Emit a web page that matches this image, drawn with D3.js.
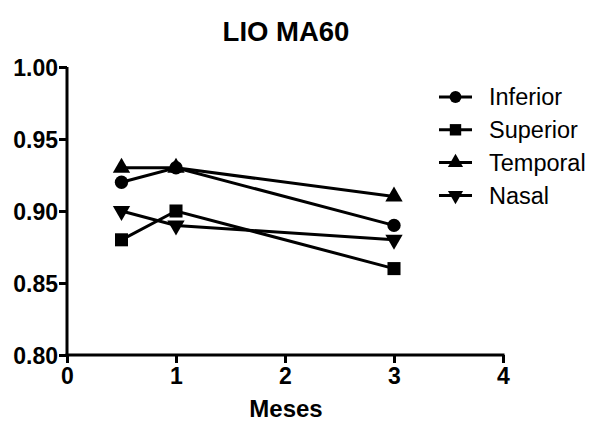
<!DOCTYPE html>
<html>
<head>
<meta charset="utf-8">
<script src="https://cdn.jsdelivr.net/npm/d3@7"></script>
<style>
  body { margin: 0; background: #fff; }
  svg { font-family: "Liberation Sans", Arial, sans-serif; }
</style>
</head>
<body>
<div id="chart"></div>
<script>
// values
const months = [0.5, 1, 3];
const inferior = [0.92, 0.93, 0.89];
const superior = [0.88, 0.90, 0.86];
const temporal = [0.93, 0.93, 0.91];
const nasal = [0.90, 0.89, 0.88];
const seriesNames = ["Inferior", "Superior", "Temporal", "Nasal"];
const xTicks = [0, 1, 2, 3, 4];
const yTicks = [0.80, 0.85, 0.90, 0.95, 1.00];

const width = 597, height = 422;
const svg = d3.select("#chart").append("svg")
  .attr("width", width)
  .attr("height", height);

const x = d3.scaleLinear().domain([0, 4]).range([67, 503]);
const y = d3.scaleLinear().domain([0.80, 1.00]).range([355, 67]);

// axes
const xAxis = svg.append("g")
  .attr("transform", `translate(0,${y(0.80)})`)
  .call(d3.axisBottom(x).tickValues(xTicks).tickFormat(d3.format("d")).tickSizeOuter(0).tickSize(8));
const yAxis = svg.append("g")
  .attr("transform", `translate(${x(0)},0)`)
  .call(d3.axisLeft(y).tickValues(yTicks).tickFormat(d3.format(".2f")).tickSizeOuter(0).tickSize(8));

[xAxis, yAxis].forEach(g => {
  g.select(".domain").attr("stroke", "#000").attr("stroke-width", 3);
  g.selectAll(".tick line").attr("stroke", "#000").attr("stroke-width", 3);
  g.selectAll(".tick text")
    .attr("fill", "#000")
    .style("font-size", "23px")
    .style("font-weight", "bold");
});
// join the corner cleanly
xAxis.select(".domain").attr("d", `M${x(0) - 1.5},0H${x(4) + 1.5}`);
yAxis.select(".domain").attr("d", `M0,${y(1.00)}V${y(0.80) + 1.5}`);
xAxis.selectAll(".tick text").attr("y", 12).attr("dy", "0.75em");
yAxis.selectAll(".tick text").attr("x", -9).attr("dy", "0.36em");

// titles
svg.append("text")
  .attr("x", 286).attr("y", 41)
  .attr("text-anchor", "middle")
  .style("font-size", "27.5px").style("font-weight", "bold")
  .text("LIO MA60");
svg.append("text")
  .attr("x", 286).attr("y", 417)
  .attr("text-anchor", "middle")
  .style("font-size", "24px").style("font-weight", "bold")
  .text("Meses");

const symbols = [
  d3.symbol().type(d3.symbolCircle).size(140),
  d3.symbol().type(d3.symbolSquare).size(170),
  d3.symbol().type(d3.symbolTriangle).size(130),
  d3.symbol().type(d3.symbolTriangle).size(130)
];
const rotations = [0, 0, 0, 180];
const allSeries = [inferior, superior, temporal, nasal];

const line = d3.line().x(d => x(d.m)).y(d => y(d.v));

allSeries.forEach((vals, i) => {
  const pts = months.map((m, j) => ({m: m, v: vals[j]}));
  svg.append("path")
    .datum(pts)
    .attr("fill", "none")
    .attr("stroke", "#000")
    .attr("stroke-width", 3)
    .attr("d", line);
  svg.selectAll(".pt" + i)
    .data(pts)
    .join("path")
    .attr("class", "pt" + i)
    .attr("fill", "#000")
    .attr("d", symbols[i])
    .attr("transform", d => `translate(${x(d.m)},${y(d.v)}) rotate(${rotations[i]})`);
});

// legend
const legendSymbols = [
  d3.symbol().type(d3.symbolCircle).size(110),
  d3.symbol().type(d3.symbolSquare).size(130),
  d3.symbol().type(d3.symbolTriangle).size(100),
  d3.symbol().type(d3.symbolTriangle).size(100)
];
const legend = svg.append("g").attr("transform", "translate(439,97)");
seriesNames.forEach((name, i) => {
  const g = legend.append("g").attr("transform", `translate(0,${i * 32.8})`);
  g.append("line")
    .attr("x1", 0).attr("x2", 33)
    .attr("stroke", "#000").attr("stroke-width", 3);
  g.append("path")
    .attr("fill", "#000")
    .attr("d", legendSymbols[i])
    .attr("transform", `translate(16.5,0) rotate(${rotations[i]})`);
  g.append("text")
    .attr("x", 50).attr("y", 0)
    .attr("dy", "0.36em")
    .style("font-size", "23.5px")
    .text(name);
});
</script>
</body>
</html>
